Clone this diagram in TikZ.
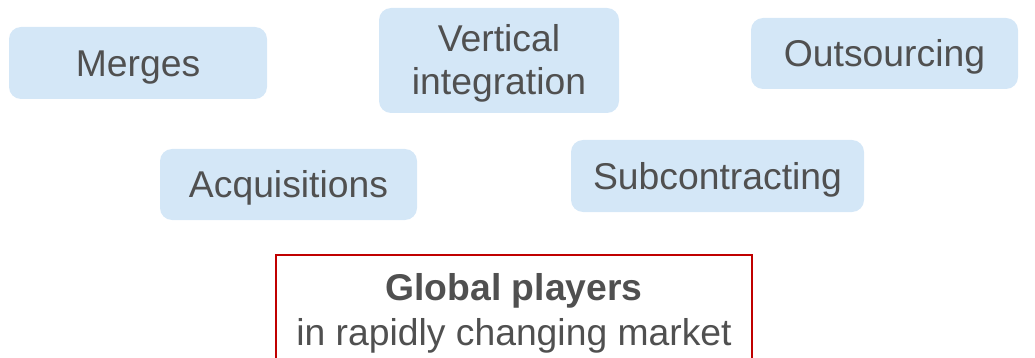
\documentclass[tikz,border=0pt]{standalone}
\usepackage{fontspec}
\setmainfont{Liberation Sans}
\definecolor{boxblue}{RGB}{212,231,247}
\definecolor{txtgray}{RGB}{80,80,80}
\definecolor{redline}{RGB}{192,0,0}
\begin{document}
\begin{tikzpicture}[x=1pt,y=-1pt,
  bluebox/.style={fill=boxblue, draw=none, rounded corners=12pt, text=txtgray,
    font=\fontsize{37.3}{43}\selectfont, align=center, inner sep=0pt,
    text height=26.7pt, text depth=0pt},
  framebox/.style={draw=redline, line width=2pt, fill=none, inner sep=0pt},
  labeltext/.style={text=txtgray, font=\fontsize{37.3}{45}\selectfont, align=center, inner sep=0pt}]
\useasboundingbox (0,0) rectangle (1035,358);
\node[bluebox, minimum width=258pt, minimum height=72pt] (merges) at (138,63) {Merges};
\node[bluebox, minimum width=240pt, minimum height=105pt, text height=69pt, text depth=0pt] (vint) at (499,60.5) {Vertical\\integration};
\node[bluebox, minimum width=267pt, minimum height=71pt] (outs) at (884.5,53.5) {Outsourcing};
\node[bluebox, minimum width=257pt, minimum height=71pt] (acq) at (288.5,184.5) {Acquisitions};
\node[bluebox, minimum width=293pt, minimum height=72pt] (subc) at (717.5,176) {Subcontracting};
\node[framebox, minimum width=476pt, minimum height=112pt] (gp) at (514,311) {};
\node[labeltext, anchor=base] (gptitle) at (514,300) {\bfseries Global players};
\node[labeltext, anchor=base] (gpsub) at (514,345) {in rapidly changing market};
\end{tikzpicture}
\end{document}
